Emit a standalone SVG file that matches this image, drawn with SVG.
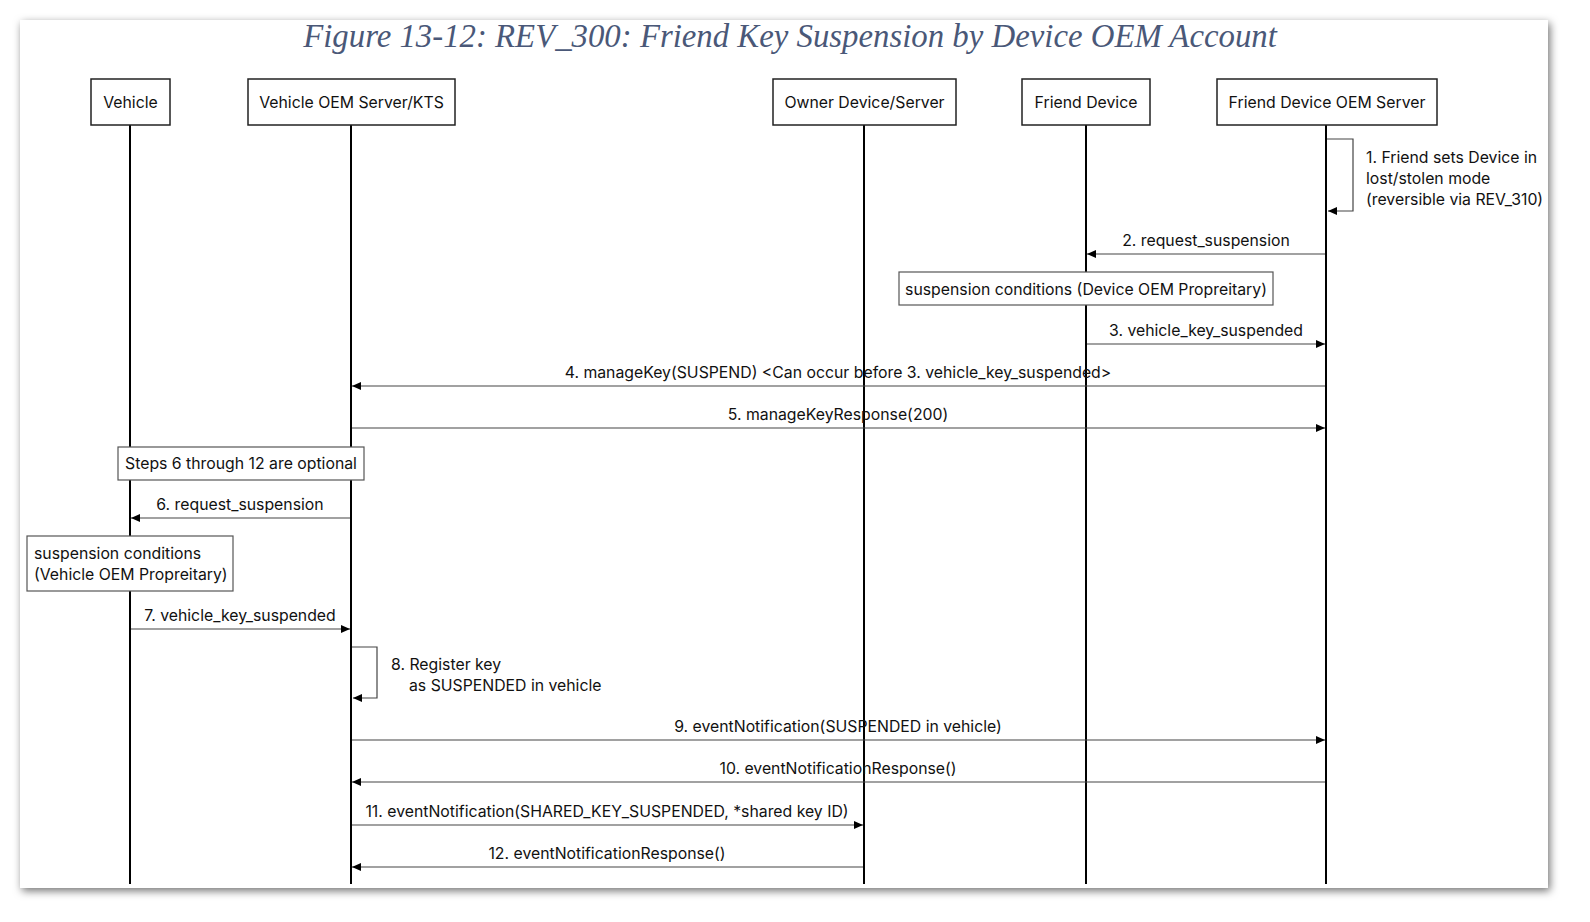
<svg xmlns="http://www.w3.org/2000/svg" width="1590" height="922" viewBox="0 0 1590 922">
<style>
.t{font-family:Inter,"Noto Sans","Liberation Sans",sans-serif;font-size:15.8px;fill:#111}
.c{text-anchor:middle}
.box{fill:#fff;stroke:#222;stroke-width:1.5}
.note{fill:#fff;stroke:#555;stroke-width:1.2}
.life{stroke:#000;stroke-width:2}
.msg{stroke:#444;stroke-width:1.2;fill:none}
</style>
<defs>
<filter id="sh" x="-5%" y="-5%" width="110%" height="110%">
<feDropShadow dx="2" dy="3" stdDeviation="4" flood-color="#000" flood-opacity="0.55"/>
</filter>
<marker id="ah" markerWidth="10" markerHeight="8" refX="9" refY="4" orient="auto" markerUnits="userSpaceOnUse">
<path d="M0,0 L9,4 L0,8 z" fill="#000"/>
</marker>
</defs>
<rect x="0" y="0" width="1590" height="922" fill="#fff"/>
<rect x="20" y="20" width="1528" height="868" fill="#fff" filter="url(#sh)"/>
<text x="790" y="47" text-anchor="middle" style="font-family:'Liberation Serif',serif;font-style:italic;font-size:32.8px;fill:#4a5878">Figure 13-12: REV_300: Friend Key Suspension by Device OEM Account</text>

<g id="lifelines">
<line class="life" x1="130" y1="125" x2="130" y2="884"/>
<line class="life" x1="351" y1="125" x2="351" y2="884"/>
<line class="life" x1="864" y1="125" x2="864" y2="884"/>
<line class="life" x1="1086" y1="125" x2="1086" y2="884"/>
<line class="life" x1="1326" y1="125" x2="1326" y2="884"/>
</g>

<g id="vehicle"><rect class="box" x="91" y="79" width="79" height="46"/><text class="t c" x="130.5" y="108">Vehicle</text></g>
<g id="vehicle-oem"><rect class="box" x="248" y="79" width="207" height="46"/><text class="t c" x="351.5" y="108">Vehicle OEM Server/KTS</text></g>
<g id="owner"><rect class="box" x="773" y="79" width="183" height="46"/><text class="t c" x="864.5" y="108">Owner Device/Server</text></g>
<g id="friend"><rect class="box" x="1022" y="79" width="128" height="46"/><text class="t c" x="1086" y="108">Friend Device</text></g>
<g id="friend-oem"><rect class="box" x="1217" y="79" width="220" height="46"/><text class="t c" x="1327" y="108">Friend Device OEM Server</text></g>

<g id="connectors">
<path class="msg" d="M1327,139 H1353 V211 H1328" marker-end="url(#ah)"/>
<line class="msg" x1="1325" y1="254" x2="1087" y2="254" marker-end="url(#ah)"/>
<line class="msg" x1="1087" y1="344" x2="1325" y2="344" marker-end="url(#ah)"/>
<line class="msg" x1="1325" y1="386" x2="352" y2="386" marker-end="url(#ah)"/>
<line class="msg" x1="352" y1="428" x2="1325" y2="428" marker-end="url(#ah)"/>
<line class="msg" x1="350" y1="518" x2="131" y2="518" marker-end="url(#ah)"/>
<line class="msg" x1="131" y1="629" x2="350" y2="629" marker-end="url(#ah)"/>
<path class="msg" d="M352,647 H377 V698 H353" marker-end="url(#ah)"/>
<line class="msg" x1="352" y1="740" x2="1325" y2="740" marker-end="url(#ah)"/>
<line class="msg" x1="1325" y1="782" x2="352" y2="782" marker-end="url(#ah)"/>
<line class="msg" x1="352" y1="825" x2="863" y2="825" marker-end="url(#ah)"/>
<line class="msg" x1="863" y1="867" x2="352" y2="867" marker-end="url(#ah)"/>
</g>

<g id="labels">
<text class="t" x="1366" y="163">1. Friend sets Device in</text>
<text class="t" x="1366" y="184">lost/stolen mode</text>
<text class="t" x="1366" y="205">(reversible via REV_310)</text>
<text class="t c" x="1206" y="246">2. request_suspension</text>
<text class="t c" x="1206" y="336">3. vehicle_key_suspended</text>
<text class="t c" x="838" y="378">4. manageKey(SUSPEND) &lt;Can occur before 3. vehicle_key_suspended&gt;</text>
<text class="t c" x="838" y="420">5. manageKeyResponse(200)</text>
<text class="t c" x="240" y="510">6. request_suspension</text>
<text class="t c" x="240" y="621">7. vehicle_key_suspended</text>
<text class="t" x="391" y="670">8. Register key</text>
<text class="t" x="409" y="691">as SUSPENDED in vehicle</text>
<text class="t c" x="838" y="732">9. eventNotification(SUSPENDED in vehicle)</text>
<text class="t c" x="838" y="774">10. eventNotificationResponse()</text>
<text class="t c" x="607" y="817">11. eventNotification(SHARED_KEY_SUSPENDED, *shared key ID)</text>
<text class="t c" x="607" y="859">12. eventNotificationResponse()</text>
</g>

<g id="note-device-oem"><rect class="note" x="899" y="272" width="374" height="33"/><text class="t c" x="1086" y="295">suspension conditions (Device OEM Propreitary)</text></g>
<g id="note-optional"><rect class="note" x="118" y="447" width="246" height="33"/><text class="t c" x="241" y="469">Steps 6 through 12 are optional</text></g>
<g id="note-vehicle-oem"><rect class="note" x="27" y="536" width="206" height="55"/><text class="t" x="34" y="559">suspension conditions</text><text class="t" x="34" y="580">(Vehicle OEM Propreitary)</text></g>
</svg>
